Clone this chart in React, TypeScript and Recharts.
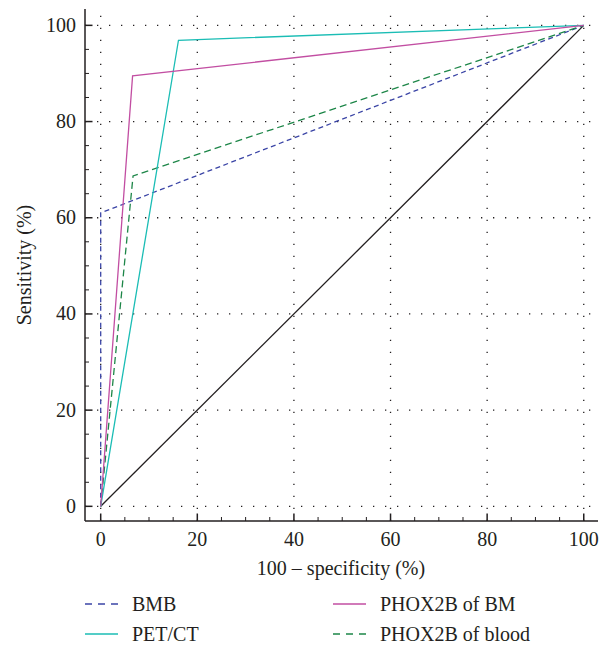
import React from "react";
import { LineChart, Line, XAxis, YAxis, ReferenceLine } from "recharts";

// axis ticks: labelled every 20, small marks every 5
const minorTicks = [0, 5, 10, 15, 20, 25, 30, 35, 40, 45, 50, 55, 60, 65, 70, 75, 80, 85, 90, 95, 100];
const majorTicks = [0, 20, 40, 60, 80, 100];

// ROC points: 100 - specificity (x) vs sensitivity (y)
const bmbX = [0, 0, 100];
const bmbY = [0, 61, 100];
const petX = [0, 16.1, 100];
const petY = [0, 96.9, 100];
const bmX = [0, 6.6, 100];
const bmY = [0, 89.5, 100];
const bloodX = [0, 6.7, 100];
const bloodY = [0, 68.7, 100];
const chanceX = [0, 100];
const chanceY = [0, 100];

const seriesNames = ["BMB", "PET/CT", "PHOX2B of BM", "PHOX2B of blood"];

const toPoints = (xs: number[], ys: number[]) => xs.map((x, i) => ({ x, y: ys[i] }));

const INK = "#231f20";
const FONT = "Liberation Serif, serif";
const textStyle = { fontFamily: FONT, fontSize: 20 };
const BLUE = "#3b45a6";
const CYAN = "#1bbdb5";
const MAGENTA = "#c24ea2";
const GREEN = "#1d8648";

const XTick = (props: any) => {
  const { x, y, payload } = props;
  const major = payload.value % 20 === 0;
  return (
    <g>
      <line x1={x} x2={x} y1={y} y2={y - (major ? 7.5 : 4)} stroke={INK} strokeWidth={major ? 1.5 : 1} />
      {major && (
        <text x={x} y={y + 24.5} textAnchor="middle" style={textStyle} fill={INK}>
          {payload.value}
        </text>
      )}
    </g>
  );
};

const YTick = (props: any) => {
  const { x, y, payload } = props;
  const major = payload.value % 20 === 0;
  return (
    <g>
      <line x1={x} x2={x + (major ? 7.5 : 4)} y1={y} y2={y} stroke={INK} strokeWidth={major ? 1.5 : 1} />
      {major && (
        <text x={x - 9} y={y + 6.5} textAnchor="end" style={textStyle} fill={INK}>
          {payload.value}
        </text>
      )}
    </g>
  );
};

const legendItems = [
  { name: seriesNames[0], color: BLUE, dash: "7 6", lx: 85, ly: 604 },
  { name: seriesNames[1], color: CYAN, dash: undefined, lx: 85, ly: 634 },
  { name: seriesNames[2], color: MAGENTA, dash: undefined, lx: 333, ly: 604 },
  { name: seriesNames[3], color: GREEN, dash: "7 6", lx: 333, ly: 634 },
];

export default function App() {
  return (
    <div style={{ position: "absolute", left: 0, top: 0, width: 599, height: 652, background: "#fff", fontFamily: FONT }}>
      <LineChart width={599} height={590} margin={{ top: 9, right: 1, left: 0, bottom: 0 }}>
        <XAxis
          type="number"
          dataKey="x"
          domain={[-3.25, 102.95]}
          allowDataOverflow
          ticks={minorTicks}
          interval={0}
          tickSize={0}
          tickMargin={0}
          tick={<XTick />}
          height={69}
          axisLine={{ stroke: INK, strokeWidth: 1.5 }}
          label={{
            content: (p: any) => {
              const vb = p.viewBox;
              return (
                <text x={341} y={vb.y + 54} textAnchor="middle" style={textStyle} fill={INK}>
                  100 – specificity (%)
                </text>
              );
            },
          }}
        />
        <YAxis
          type="number"
          dataKey="y"
          domain={[-3.05, 103.4]}
          allowDataOverflow
          ticks={minorTicks}
          interval={0}
          tickSize={0}
          tickMargin={0}
          tick={<YTick />}
          width={85}
          axisLine={{ stroke: INK, strokeWidth: 1.5 }}
          label={{
            content: (p: any) => {
              const vb = p.viewBox;
              const cy = vb.y + vb.height / 2;
              return (
                <text
                  x={31}
                  y={cy}
                  transform={`rotate(-90 31 ${cy})`}
                  textAnchor="middle"
                  style={textStyle}
                  fill={INK}
                >
                  Sensitivity (%)
                </text>
              );
            },
          }}
        />
        {majorTicks.map((v) => (
          <ReferenceLine key={`gx-${v}`} x={v} stroke={INK} strokeWidth={1.3} strokeDasharray="1.3 10.7" />
        ))}
        {majorTicks.map((v) => (
          <ReferenceLine key={`gy-${v}`} y={v} stroke={INK} strokeWidth={1.3} strokeDasharray="1.3 10.7" />
        ))}
        <Line
          data={toPoints(chanceX, chanceY)}
          dataKey="y"
          type="linear"
          stroke={INK}
          strokeWidth={1.3}
          dot={false}
          isAnimationActive={false}
        />
        <Line
          data={toPoints(bmbX, bmbY)}
          dataKey="y"
          name={seriesNames[0]}
          type="linear"
          stroke={BLUE}
          strokeWidth={1.3}
          strokeDasharray="5 3.5"
          dot={false}
          isAnimationActive={false}
        />
        <Line
          data={toPoints(bloodX, bloodY)}
          dataKey="y"
          name={seriesNames[3]}
          type="linear"
          stroke={GREEN}
          strokeWidth={1.3}
          strokeDasharray="7 4"
          dot={false}
          isAnimationActive={false}
        />
        <Line
          data={toPoints(petX, petY)}
          dataKey="y"
          name={seriesNames[1]}
          type="linear"
          stroke={CYAN}
          strokeWidth={1.3}
          dot={false}
          isAnimationActive={false}
        />
        <Line
          data={toPoints(bmX, bmY)}
          dataKey="y"
          name={seriesNames[2]}
          type="linear"
          stroke={MAGENTA}
          strokeWidth={1.3}
          dot={false}
          isAnimationActive={false}
        />
      </LineChart>
      <svg width={599} height={62} style={{ position: "absolute", left: 0, top: 590 }}>
        {legendItems.map((it) => (
          <g key={it.name}>
            <line
              x1={it.lx}
              x2={it.lx + 33}
              y1={it.ly - 590}
              y2={it.ly - 590}
              stroke={it.color}
              strokeWidth={1.3}
              strokeDasharray={it.dash}
            />
            <text x={it.lx + 47} y={it.ly - 590 + 6.5} style={textStyle} fill={INK}>
              {it.name}
            </text>
          </g>
        ))}
      </svg>
    </div>
  );
}
